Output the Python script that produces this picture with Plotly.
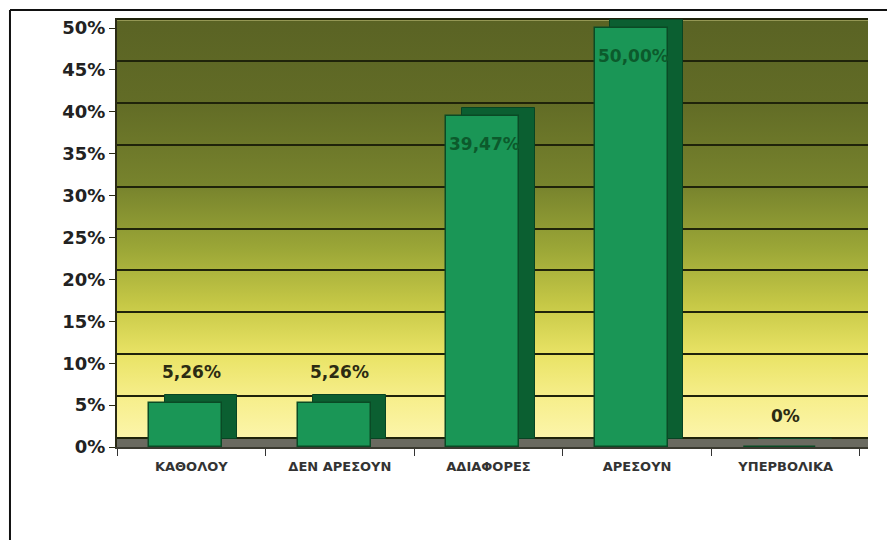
import base64
import plotly.graph_objects as go

# ---- data ----
categories = ["ΚΑΘΟΛΟΥ", "ΔΕΝ ΑΡΕΣΟΥΝ", "ΑΔΙΑΦΟΡΕΣ", "ΑΡΕΣΟΥΝ", "ΥΠΕΡΒΟΛΙΚΑ"]
values = [5.26, 5.26, 39.47, 50.00, 0.0]
value_labels = ["5,26%", "5,26%", "39,47%", "50,00%", "0%"]
label_inside = [False, False, True, True, False]
tick_vals = [0, 5, 10, 15, 20, 25, 30, 35, 40, 45, 50]
tick_text = ["0%", "5%", "10%", "15%", "20%", "25%", "30%", "35%", "40%", "45%", "50%"]

FONT = "DejaVu Sans, Arial, sans-serif"
DEPTH = 0.95  # 3-D depth in axis units

# gradient back wall as an inline SVG image
svg = (
    "<svg xmlns='http://www.w3.org/2000/svg' width='100' height='100' preserveAspectRatio='none'>"
    "<defs><linearGradient id='g' x1='0' y1='0' x2='0' y2='1'>"
    "<stop offset='0' stop-color='#5a6324'/>"
    "<stop offset='0.2' stop-color='#626c26'/>"
    "<stop offset='0.4' stop-color='#78842d'/>"
    "<stop offset='0.55' stop-color='#9ca737'/>"
    "<stop offset='0.68' stop-color='#c6c846'/>"
    "<stop offset='0.8' stop-color='#e9e365'/>"
    "<stop offset='0.9' stop-color='#f6ee8a'/>"
    "<stop offset='1' stop-color='#fcf5aa'/>"
    "</linearGradient></defs>"
    "<rect width='100' height='100' fill='url(#g)'/></svg>"
)
svg_uri = "data:image/svg+xml;base64," + base64.b64encode(svg.encode()).decode()

fig = go.Figure()

# side / top faces (drawn behind, shifted up-right)
fig.add_trace(go.Bar(
    x=categories, y=values, base=[DEPTH] * len(values),
    width=0.49, offset=-0.18,
    marker=dict(color="#0b5f31", line=dict(color="#084423", width=1)),
    hoverinfo="skip", showlegend=False,
))
# front faces
fig.add_trace(go.Bar(
    x=categories, y=values,
    width=0.49, offset=-0.283,
    marker=dict(color="#1a9656", line=dict(color="#0a4a25", width=1.5)),
    hoverinfo="skip", showlegend=False,
))
# back-wall grid axis carrier
fig.add_trace(go.Scatter(
    x=categories, y=[None] * len(categories), yaxis="y2",
    mode="markers", hoverinfo="skip", showlegend=False,
))

annotations = []
for c, v, t, inside in zip(categories, values, value_labels, label_inside):
    annotations.append(dict(
        x=c, y=v, xref="x", yref="y", text=t, showarrow=False,
        xshift=-4 if inside else 0,
        yshift=-28 if inside else 31,
        font=dict(family=FONT, size=17,
                  color="#0c5a2c" if inside else "#2b2b12", weight="bold"),
    ))

# paper geometry: plot area on screen x 117..868, y 18..447
frame_line = dict(color="#111111", width=2)
shapes = [
    # floor
    dict(type="rect", xref="paper", yref="paper", x0=0, x1=1, y0=-0.004, y1=0.021,
         fillcolor="#6a6a60", line=dict(width=0), layer="below"),
    # outer frame: left and top edges (others run off the picture)
    dict(type="line", xref="paper", yref="paper", x0=-0.1425, x1=-0.1425, y0=-0.3, y1=1.0186,
         line=frame_line),
    dict(type="line", xref="paper", yref="paper", x0=-0.1425, x1=1.2, y0=1.0186, y1=1.0186,
         line=frame_line),
]

fig.update_layout(
    width=895, height=540,
    margin=dict(l=109, r=35, t=10, b=101),
    paper_bgcolor="white", plot_bgcolor="#fcf5aa",
    barmode="overlay", bargap=0,
    font=dict(family=FONT, color="#222222"),
    xaxis=dict(
        range=[-0.5, 4.554], showgrid=False, zeroline=False,
        showline=True, linecolor="#3a3a30", linewidth=2,
        ticks="outside", tickson="boundaries", ticklen=7, tickcolor="#333333",
        ticklabelstandoff=6,
        tickfont=dict(family=FONT, size=13, color="#333333", weight="bold"),
        fixedrange=True,
    ),
    yaxis=dict(
        range=[0, 51.2], tickvals=tick_vals, ticktext=tick_text,
        showgrid=False, zeroline=False,
        showline=True, linecolor="#2a2a14", linewidth=2,
        ticks="outside", ticklen=6, tickcolor="#2a2a14",
        tickfont=dict(family=FONT, size=18, color="#222222", weight="bold"),
        fixedrange=True,
    ),
    yaxis2=dict(
        overlaying="y", anchor="x", range=[-1.07, 50.13],
        tickvals=tick_vals, showticklabels=False, ticks="",
        showgrid=True, gridcolor="#1f230a", gridwidth=2, zeroline=False,
        fixedrange=True,
    ),
    images=[dict(
        source=svg_uri, xref="paper", yref="paper",
        x=0, y=0.995, sizex=1, sizey=0.974,
        xanchor="left", yanchor="top", sizing="stretch", layer="below",
    )],
    shapes=shapes,
    annotations=annotations,
)

fig.write_html("out.html")
